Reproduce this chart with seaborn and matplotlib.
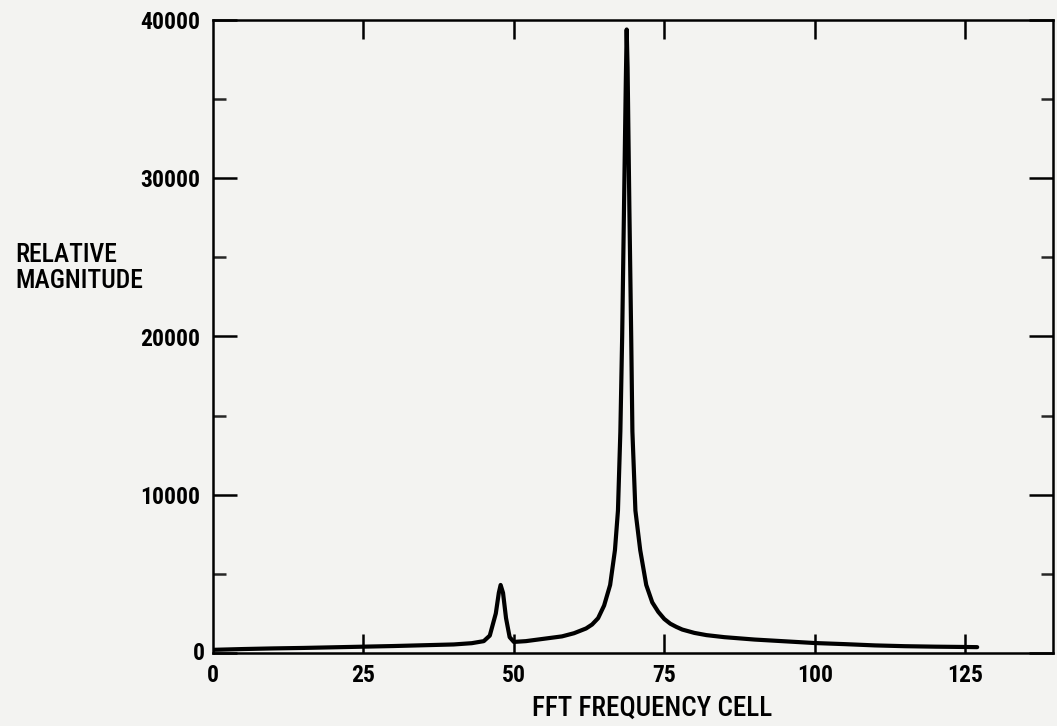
import matplotlib
matplotlib.use("Agg")
import matplotlib.pyplot as plt
import seaborn as sns
import pandas as pd
from matplotlib.ticker import MultipleLocator
from matplotlib import font_manager

# ---- data ----
cell = [0, 5, 10, 15, 20, 25, 30, 35, 40, 43, 45, 46, 47, 47.5, 47.8, 48.2, 48.7, 49.3,
        50, 52, 55, 58, 60, 62, 63, 64, 65, 66, 66.8, 67.3, 67.7, 68.0, 68.3, 68.6, 68.75,
        68.9, 69.2, 69.5, 69.7, 70.2, 71.0, 72, 73, 74, 75, 76, 77, 78, 80, 82, 85, 90, 95,
        100, 105, 110, 115, 120, 125, 127]
magnitude = [200, 250, 290, 320, 360, 400, 440, 490, 540, 620, 750, 1100, 2500, 3800, 4300,
             3800, 2200, 1000, 700, 750, 900, 1050, 1250, 1550, 1800, 2200, 3000, 4300, 6500,
             9000, 14000, 20000, 28000, 36000, 39400, 37000, 28000, 20000, 14000, 9000, 6500,
             4300, 3200, 2600, 2150, 1850, 1650, 1480, 1270, 1130, 1000, 850, 740,
             630, 560, 480, 430, 400, 380, 370]
x_ticks = [25, 50, 75, 100, 125]
y_ticks = [0, 10000, 20000, 30000, 40000]
x_label = "FFT FREQUENCY CELL"
y_label = "RELATIVE\nMAGNITUDE"

df = pd.DataFrame({"cell": cell, "magnitude": magnitude})

sns.set_theme(style="white")
# pick a condensed face if one is installed
names = {f.name for f in font_manager.fontManager.ttflist}
condensed = [f for f in font_manager.fontManager.ttflist
             if f.stretch in ("condensed", "semi-condensed", 600) or "Narrow" in f.name
             or "Condensed" in f.name]
fam = None
for cand in ["Liberation Sans Narrow", "DejaVu Sans Condensed", "Roboto Condensed",
             "Open Sans Condensed", "Noto Sans Condensed"]:
    if cand in names:
        fam = cand
        break
stretch = "normal"
if fam is None:
    fam = "DejaVu Sans"
    if any(f.name == "DejaVu Sans" and f.stretch == "condensed" for f in condensed):
        stretch = "condensed"
plt.rcParams["font.family"] = [fam, "DejaVu Sans"]
plt.rcParams["font.stretch"] = stretch
plt.rcParams["text.color"] = "black"
narrow = stretch == "condensed" or fam != "DejaVu Sans"
size = 17 if narrow else 15
lab_x = 19.5 if narrow else 16
lab_y = 18.5 if narrow else 15.5

bg = "#f3f3f1"
fig = plt.figure(figsize=(10.57, 7.26), dpi=100, facecolor=bg)
ax = fig.add_axes([213 / 1057, 1 - 653 / 726, (1053 - 213) / 1057, (653 - 20) / 726])
ax.set_facecolor(bg)

sns.lineplot(data=df, x="cell", y="magnitude", ax=ax, color="black", linewidth=3.0,
             estimator=None, sort=False)

ax.set_xlim(0, 139.6)
ax.set_ylim(0, 40000)

for s in ax.spines.values():
    s.set_color("black")
    s.set_linewidth(1.8)

ax.set_xticks(x_ticks)
ax.set_yticks(y_ticks)
ax.yaxis.set_minor_locator(MultipleLocator(5000))
ax.set_yticklabels([str(v) for v in y_ticks])
ax.set_xticklabels([str(v) for v in x_ticks])

ax.tick_params(axis="x", which="major", direction="in", length=14, width=1.8,
               top=True, bottom=True, labelsize=size, pad=8, colors="black")
ax.tick_params(axis="y", which="major", direction="in", length=17, width=1.8,
               left=True, right=True, labelsize=size, pad=9, colors="black")
ax.tick_params(axis="y", which="minor", direction="in", length=9, width=1.8,
               left=True, right=True)
for t in ax.get_xticklabels() + ax.get_yticklabels():
    t.set_fontweight("bold")

# "0" labels at the origin as in the reference
ax.text(-1.4, 0, "0", ha="right", va="center", fontsize=size, fontweight="bold")
ax.text(0, -700, "0", ha="center", va="top", fontsize=size, fontweight="bold")
ax.get_yticklabels()[0].set_visible(False)

ax.set_xlabel("")
ax.set_ylabel("")
fig.text(652 / 1057, 1 - 708 / 726, x_label, ha="center", va="center", fontsize=lab_x,
         color="black", fontweight="medium")
fig.text(15 / 1057, 1 - 268 / 726, y_label, ha="left", va="center", fontsize=lab_y,
         linespacing=1.1, color="black", fontweight="medium")

fig.savefig("out.png", dpi=100, facecolor=bg)
